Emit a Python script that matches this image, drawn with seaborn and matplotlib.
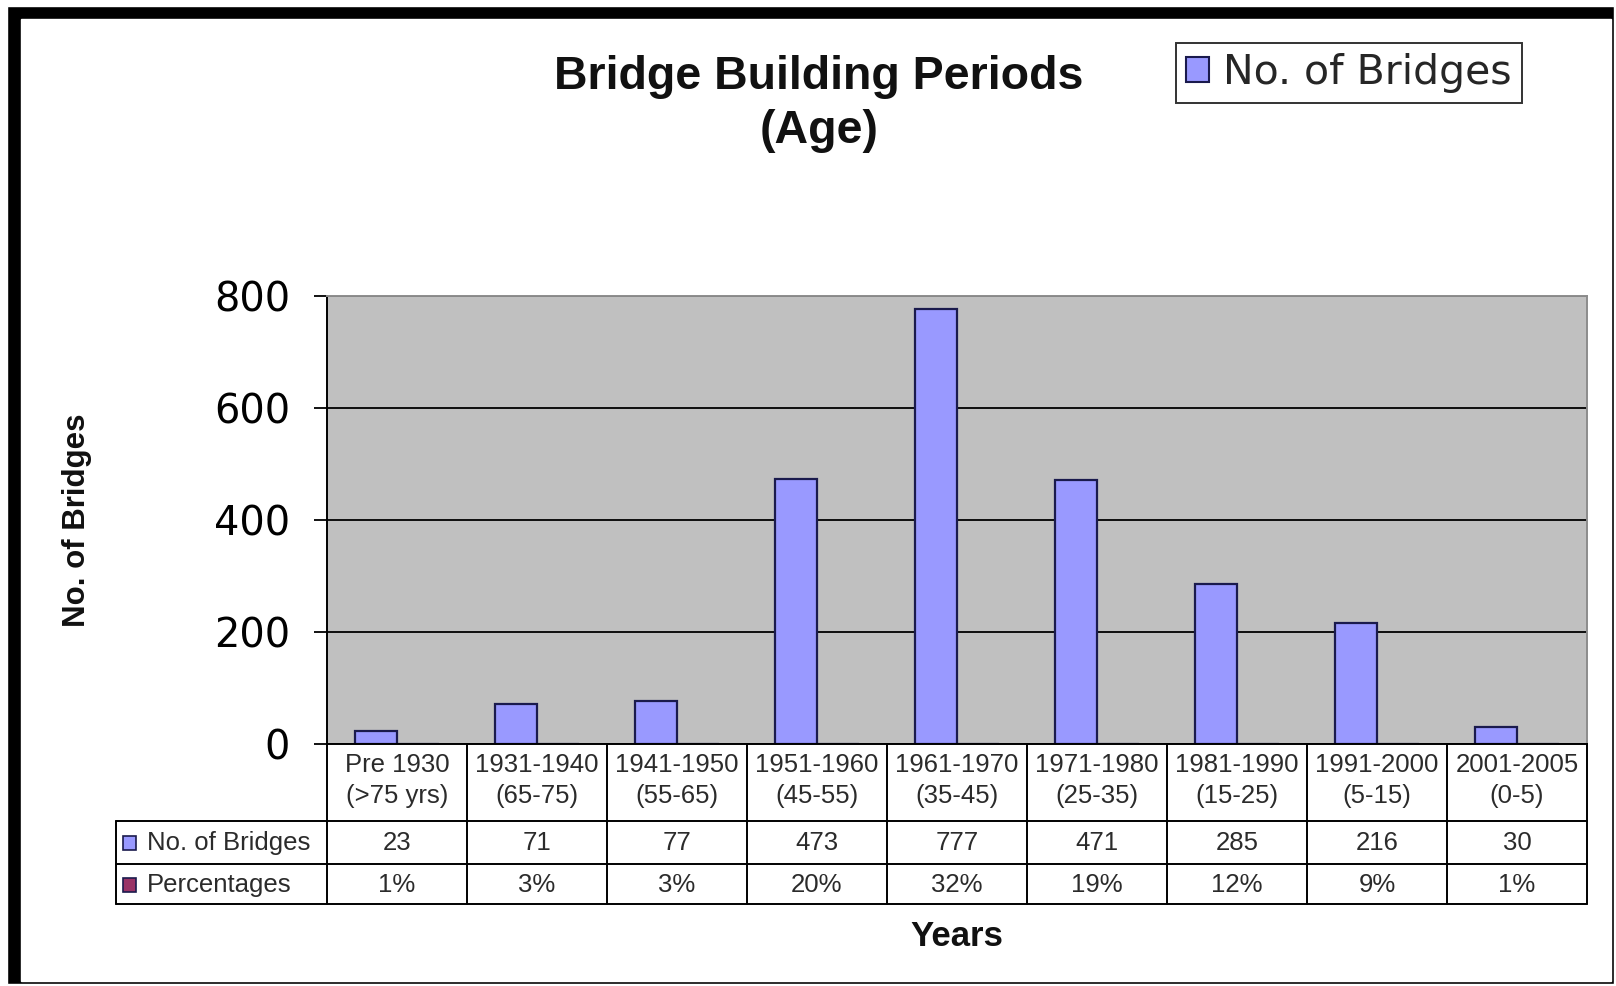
import pandas as pd
import matplotlib.pyplot as plt
import seaborn as sns
from matplotlib.patches import Rectangle, Patch

periodos = ['Pre 1930', '1931-1940', '1941-1950', '1951-1960', '1961-1970',
            '1971-1980', '1981-1990', '1991-2000', '2001-2005']
idades = ['(>75 yrs)', '(65-75)', '(55-65)', '(45-55)', '(35-45)',
          '(25-35)', '(15-25)', '(5-15)', '(0-5)']
num_pontes = [23, 71, 77, 473, 777, 471, 285, 216, 30]
percentuais = [1, 3, 3, 20, 32, 19, 12, 9, 1]
yticks = [0, 200, 400, 600, 800]

cor_pontes = '#9999FF'
cor_pct = '#993366'
borda = '#1a1a4d'

sns.set_theme(style="ticks")
plt.rcParams['font.family'] = ['DejaVu Sans']

W, H = 1616, 986
fig = plt.figure(figsize=(W / 100, H / 100), dpi=100)
fig.patch.set_facecolor('white')

# moldura preta
fig.patches.append(Rectangle((7 / W, 1 - 984 / H), (1614 - 7) / W, (984 - 6) / H,
                             transform=fig.transFigure, facecolor='black', zorder=-10))
fig.patches.append(Rectangle((21 / W, 1 - 981 / H), (1611 - 21) / W, (981 - 19) / H,
                             transform=fig.transFigure, facecolor='white', zorder=-9))

ax = fig.add_axes([327 / W, 1 - 744 / H, 1260 / W, 448 / H])
ax.set_facecolor('#C0C0C0')

df = pd.DataFrame({
    'periodo': periodos * 2,
    'serie': ['No. of Bridges'] * 9 + ['Percentages'] * 9,
    'valor': num_pontes + [p / 100 for p in percentuais],
})
sns.barplot(data=df, x='periodo', y='valor', hue='serie', order=periodos,
            palette={'No. of Bridges': cor_pontes, 'Percentages': cor_pct},
            width=0.6, edgecolor=borda, linewidth=1.6, saturation=1,
            legend=False, ax=ax)

ax.set_xlim(-0.5, 8.5)
ax.set_ylim(0, 800)
ax.set_yticks(yticks)
ax.set_xticks([])
ax.set_xlabel('')
ax.set_ylabel('')
ax.grid(axis='y', color='black', linewidth=1.3)
ax.set_axisbelow(True)
ax.tick_params(axis='y', length=9.5, width=1.3, direction='out', pad=17,
               labelsize=28.7, colors='black')
for s in ['left', 'bottom']:
    ax.spines[s].set_color('black')
    ax.spines[s].set_linewidth(1.4)
for s in ['top', 'right']:
    ax.spines[s].set_color('#8c8c8c')
    ax.spines[s].set_linewidth(1.4)
    ax.spines[s].set_visible(True)

# tabela de dados abaixo do eixo
tab = fig.add_axes([327 / W, 1 - 904 / H, 1260 / W, 160 / H])
tab.set_xlim(-0.5, 8.5)
tab.set_ylim(160, 0)
tab.axis('off')
esq = -0.5 - (327 - 116) / 140
lw = 1.4
for i in range(10):
    tab.plot([i - 0.5, i - 0.5], [0, 160], color='black', lw=lw, clip_on=False)
tab.plot([esq, 8.5], [77, 77], color='black', lw=lw, clip_on=False)
tab.plot([esq, 8.5], [120, 120], color='black', lw=lw, clip_on=False)
tab.plot([esq, 8.5], [160, 160], color='black', lw=lw, clip_on=False)
tab.plot([esq, esq], [77, 160], color='black', lw=lw, clip_on=False)

fonte_tab = dict(family='Liberation Sans', fontsize=18.5, color='#2b2b2b')
for i in range(9):
    tab.text(i, 21, periodos[i], ha='center', va='center', **fonte_tab)
    tab.text(i, 52, idades[i], ha='center', va='center', **fonte_tab)
    tab.text(i, 99, str(num_pontes[i]), ha='center', va='center', **fonte_tab)
    tab.text(i, 141, f'{percentuais[i]}%', ha='center', va='center', **fonte_tab)

for y0, cor, nome in [(99, cor_pontes, 'No. of Bridges'), (141, cor_pct, 'Percentages')]:
    x0 = -0.5 - (327 - 123) / 140
    tab.add_patch(Rectangle((x0, y0 - 7), 13 / 140, 14, facecolor=cor,
                            edgecolor=borda, lw=1.2, clip_on=False))
    tab.text(-0.5 - (327 - 147) / 140, y0, nome, ha='left', va='center', **fonte_tab)

fig.text(819 / W, 1 - 89 / H, 'Bridge Building Periods', ha='center', va='baseline',
         family='Liberation Sans', fontweight='bold', fontsize=33.5, color='#111111')
fig.text(819 / W, 1 - 143 / H, '(Age)', ha='center', va='baseline',
         family='Liberation Sans', fontweight='bold', fontsize=33.5, color='#111111')
fig.text(957 / W, 1 - 946 / H, 'Years', ha='center', va='baseline',
         family='Liberation Sans', fontweight='bold', fontsize=25, color='#111111')
fig.text(77 / W, 1 - 520 / H, 'No. of Bridges', ha='center', va='center', rotation=90,
         family='Liberation Sans', fontweight='bold', fontsize=22.5, color='#111111')

leg = fig.legend(handles=[Patch(facecolor=cor_pontes, edgecolor=borda, linewidth=1.5,
                                label='No. of Bridges')],
                 loc='upper right', bbox_to_anchor=(1522 / W, 1 - 43 / H),
                 fontsize=29.5, frameon=True, fancybox=False, borderpad=0.25,
                 handlelength=0.55, handleheight=0.55, handletextpad=0.35,
                 borderaxespad=0)
leg.get_frame().set_edgecolor('black')
leg.get_frame().set_linewidth(1.4)

plt.savefig('out.png', dpi=100)
